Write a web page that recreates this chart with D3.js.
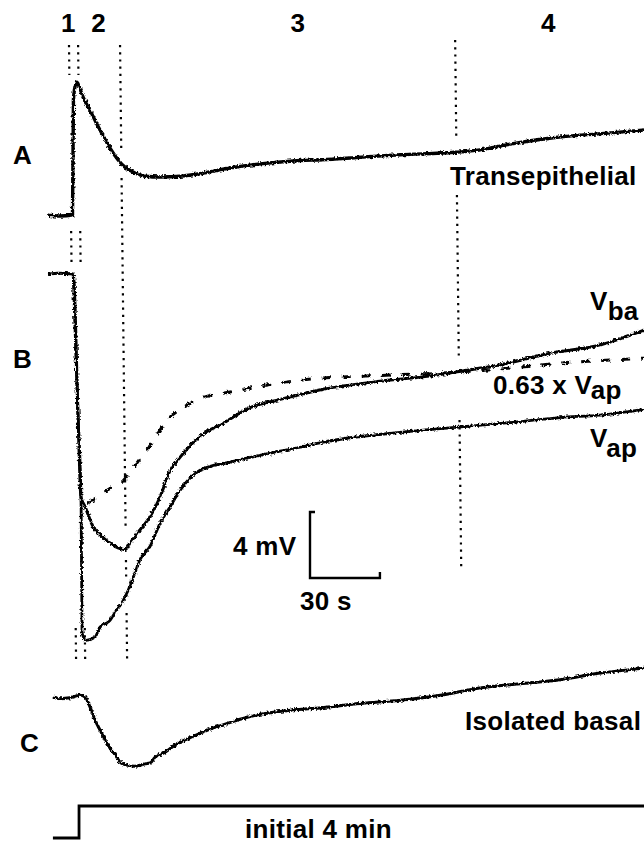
<!DOCTYPE html>
<html>
<head>
<meta charset="utf-8">
<script src="https://cdn.jsdelivr.net/npm/d3@7"></script>
<style>
  body { margin: 0; background: #fff; }
  text { font-family: 'Liberation Sans', Arial, sans-serif; font-weight: bold; font-size: 26px; fill: #000; letter-spacing: 0.3px; }
</style>
</head>
<body>
<script>
// time in s (0 = start of perfusion), deflection in mV from the initial baseline
const phaseLabels = ['1', '2', '3', '4'];
const phaseLabelTimes = [-4, 9, 94.5, 202];
const phaseBoundaries = [-3.7, 0.2, 18.2, 162];

const transepithelial = [
  [-13.1, 0], [-7.6, -0.06], [-2.2, 0], [-1.8, 6.97], [-1.1, 7.8], [-0.3, 8.05], [0.6, 7.8],
  [2.3, 7.15], [5.3, 6.35], [9.6, 5.15], [13.9, 4.05], [17.3, 3.35], [20.3, 2.9], [24.6, 2.55],
  [28.9, 2.35], [35.4, 2.3], [44, 2.35], [52.5, 2.5], [65.4, 2.85], [78.3, 3.1], [95.5, 3.3],
  [104.9, 3.35], [121.2, 3.5], [138.4, 3.65], [162, 3.8], [172.7, 3.95], [185.6, 4.3],
  [204.9, 4.7], [226.4, 4.95], [243, 5.15]
];

const vBa = [
  [-12.7, 0], [-8, 0.05], [-1.9, 0], [0.2, -8.7], [1.4, -13.5], [3.2, -14.1], [6.6, -15.3],
  [9.6, -15.8], [13.9, -16.3], [17.3, -16.6], [20.3, -16.7], [22.5, -16.3], [26.8, -15.5],
  [31.1, -14.7], [35.4, -13.5], [39.7, -11.9], [44, -11.1], [50.4, -10.1], [54.7, -9.6],
  [61.1, -9.15], [74, -8.1], [86.9, -7.6], [95.5, -7.3], [104.9, -7.0], [129.8, -6.5],
  [147, -6.25], [162, -5.95], [181.3, -5.5], [202.7, -4.8], [224.2, -4.3], [243, -3.4]
];

const vAp = [
  [-1.9, 0], [0.2, -8.7], [1.5, -14], [1.9, -21.75], [3.6, -22.2], [7.5, -22.0], [9.6, -21.4],
  [13.9, -21.0], [16.1, -20.5], [19.1, -19.9], [21.6, -19.2], [24.6, -18.1], [26.8, -17.3],
  [31.1, -16.5], [35.4, -15.1], [39.7, -14.1], [44, -13.1], [52.5, -11.9], [65.4, -11.4],
  [82.6, -10.85], [95.5, -10.5], [104.9, -10.2], [138.4, -9.6], [162, -9.3], [189.9, -8.95],
  [207, -8.7], [224.2, -8.55], [243, -8.2]
];

const scaledVap = [
  [4.5, -13.9], [9.6, -13.4], [13.9, -13.0], [19.1, -12.6], [22.5, -12.0], [28.9, -10.8],
  [31.9, -10.25], [37.5, -9.0], [45.2, -8.1], [54.7, -7.45], [65.4, -7.15], [76.1, -6.85],
  [86.9, -6.6], [104.9, -6.3], [121.2, -6.2], [138.4, -6.1], [162, -5.95], [189.9, -5.65],
  [207, -5.4], [224.2, -5.25], [243, -5.1]
];

const isolatedBasal = [
  [-10.6, 0], [-7.6, -0.1], [-3.3, -0.05], [1.0, 0.1], [3.2, 0], [5.3, -0.6], [7.5, -1.4],
  [9.6, -2.0], [11.8, -2.6], [13.9, -3.1], [16.1, -3.5], [18.2, -3.95], [20.3, -4.1],
  [24.6, -4.2], [28.9, -4.05], [31.1, -4.0], [33.2, -3.65], [37.5, -3.35], [41.8, -2.9],
  [46.1, -2.6], [52.5, -2.2], [56.8, -1.95], [63.3, -1.65], [69.7, -1.35], [78.3, -1.05],
  [91.2, -0.8], [104.9, -0.65], [121.2, -0.4], [138.4, -0.2], [155.6, 0.1], [172.7, 0.55],
  [189.9, 0.8], [207, 1.05], [224.2, 1.45], [243, 1.75]
];

// perfusion on/off
const perfusion = [[-10.6, 0], [0.6, 1], [243, 1]];

const scaleBar = { mV: 4, s: 30 };

const svg = d3.select('body')
    .append('svg')
    .attr('width', 644)
    .attr('height', 843);

// rough pen look of the chart recorder
const filt = svg.append('defs').append('filter')
    .attr('id', 'rough')
    .attr('filterUnits', 'userSpaceOnUse')
    .attr('x', 0).attr('y', 0)
    .attr('width', 644).attr('height', 843);
filt.append('feTurbulence')
    .attr('type', 'fractalNoise')
    .attr('baseFrequency', 0.45)
    .attr('numOctaves', 2)
    .attr('seed', 4)
    .attr('result', 'noise');
filt.append('feDisplacementMap')
    .attr('in', 'SourceGraphic')
    .attr('in2', 'noise')
    .attr('scale', 4)
    .attr('xChannelSelector', 'R')
    .attr('yChannelSelector', 'G');

// scales: 30 s ~ 70 px, 4 mV ~ 66 px
const x = d3.scaleLinear().domain([-14, 243]).range([45, 644]);
const pxPerMV = 16.5;
const yA = d3.scaleLinear().domain([0, 1]).range([215, 215 - pxPerMV]);
const yB = d3.scaleLinear().domain([0, 1]).range([274, 274 - pxPerMV]);
const yC = d3.scaleLinear().domain([0, 1]).range([697, 697 - pxPerMV]);
const yP = d3.scaleLinear().domain([0, 1]).range([838, 806]);

const lineFor = y => d3.line().x(d => x(d[0])).y(d => y(d[1])).curve(d3.curveMonotoneX);

// dotted phase markers (the scan is slightly skewed)
const skew = 0.0115;
const dotSegs = [
  [0, 45, 75], [1, 45, 75], [0, 231, 262], [1, 231, 262], [0, 628, 660], [1, 628, 660],
  [2, 45, 150], [2, 178, 527], [2, 560, 578], [2, 613, 660],
  [3, 40, 137], [3, 195, 360], [3, 420, 568]
];
svg.selectAll('.dots')
    .data(dotSegs)
    .enter()
    .append('line')
    .attr('class', 'dots')
    .attr('x1', d => x(phaseBoundaries[d[0]]) + skew * (d[1] - 45))
    .attr('x2', d => x(phaseBoundaries[d[0]]) + skew * (d[2] - 45))
    .attr('y1', d => d[1])
    .attr('y2', d => d[2])
    .attr('stroke', '#000')
    .attr('stroke-width', 2.2)
    .attr('stroke-dasharray', '2.2,5');

svg.selectAll('.phase')
    .data(phaseLabels)
    .enter()
    .append('text')
    .attr('class', 'phase')
    .attr('x', (d, i) => x(phaseLabelTimes[i]))
    .attr('y', 32)
    .attr('text-anchor', 'middle')
    .text(d => d);

const traces = [
  { data: transepithelial, y: yA, w: 3.4 },
  { data: vBa, y: yB, w: 3 },
  { data: vAp, y: yB, w: 2.8 },
  { data: isolatedBasal, y: yC, w: 3 }
];
traces.forEach(tr => {
    svg.append('path')
        .attr('d', lineFor(tr.y)(tr.data))
        .attr('fill', 'none')
        .attr('stroke', '#000')
        .attr('stroke-width', tr.w)
        .attr('stroke-linejoin', 'round')
        .attr('filter', 'url(#rough)');
});

svg.append('path')
    .attr('d', lineFor(yB)(scaledVap))
    .attr('fill', 'none')
    .attr('stroke', '#000')
    .attr('stroke-width', 3)
    .attr('stroke-dasharray', '9,11')
    .attr('filter', 'url(#rough)');

svg.append('path')
    .attr('d', d3.line().x(d => x(d[0])).y(d => yP(d[1])).curve(d3.curveStepAfter)(perfusion))
    .attr('fill', 'none')
    .attr('stroke', '#000')
    .attr('stroke-width', 2.8);

// calibration bar
const bx = 310, by = 578;
const barW = x(scaleBar.s) - x(0);
const barH = yB(0) - yB(scaleBar.mV);
svg.append('path')
    .attr('d', `M${bx + 5},${by - barH} H${bx} V${by} H${bx + barW} V${by - 6}`)
    .attr('fill', 'none')
    .attr('stroke', '#000')
    .attr('stroke-width', 2.4);
svg.append('text').attr('x', bx - 77).attr('y', 555).text(`${scaleBar.mV} mV`);
svg.append('text').attr('x', bx - 10).attr('y', 610).text(`${scaleBar.s} s`);

// panel letters and trace names
svg.append('text').attr('x', 13).attr('y', 164).text('A');
svg.append('text').attr('x', 13).attr('y', 368).text('B');
svg.append('text').attr('x', 20).attr('y', 752).text('C');
svg.append('text').attr('x', 450).attr('y', 185).text('Transepithelial');
svg.append('text').attr('x', 465).attr('y', 730).attr('letter-spacing', 0).text('Isolated basal');
svg.append('text').attr('x', 245).attr('y', 838).text('initial 4 min');

const sub = (xx, yy, main, s, dy) => {
    const t = svg.append('text').attr('x', xx).attr('y', yy);
    t.append('tspan').text(main);
    t.append('tspan').attr('dy', dy).text(s);
};
sub(590, 310, 'V', 'ba', 10);
sub(493, 394, '0.63 x V', 'ap', 5);
sub(590, 447, 'V', 'ap', 10);
</script>
</body>
</html>
